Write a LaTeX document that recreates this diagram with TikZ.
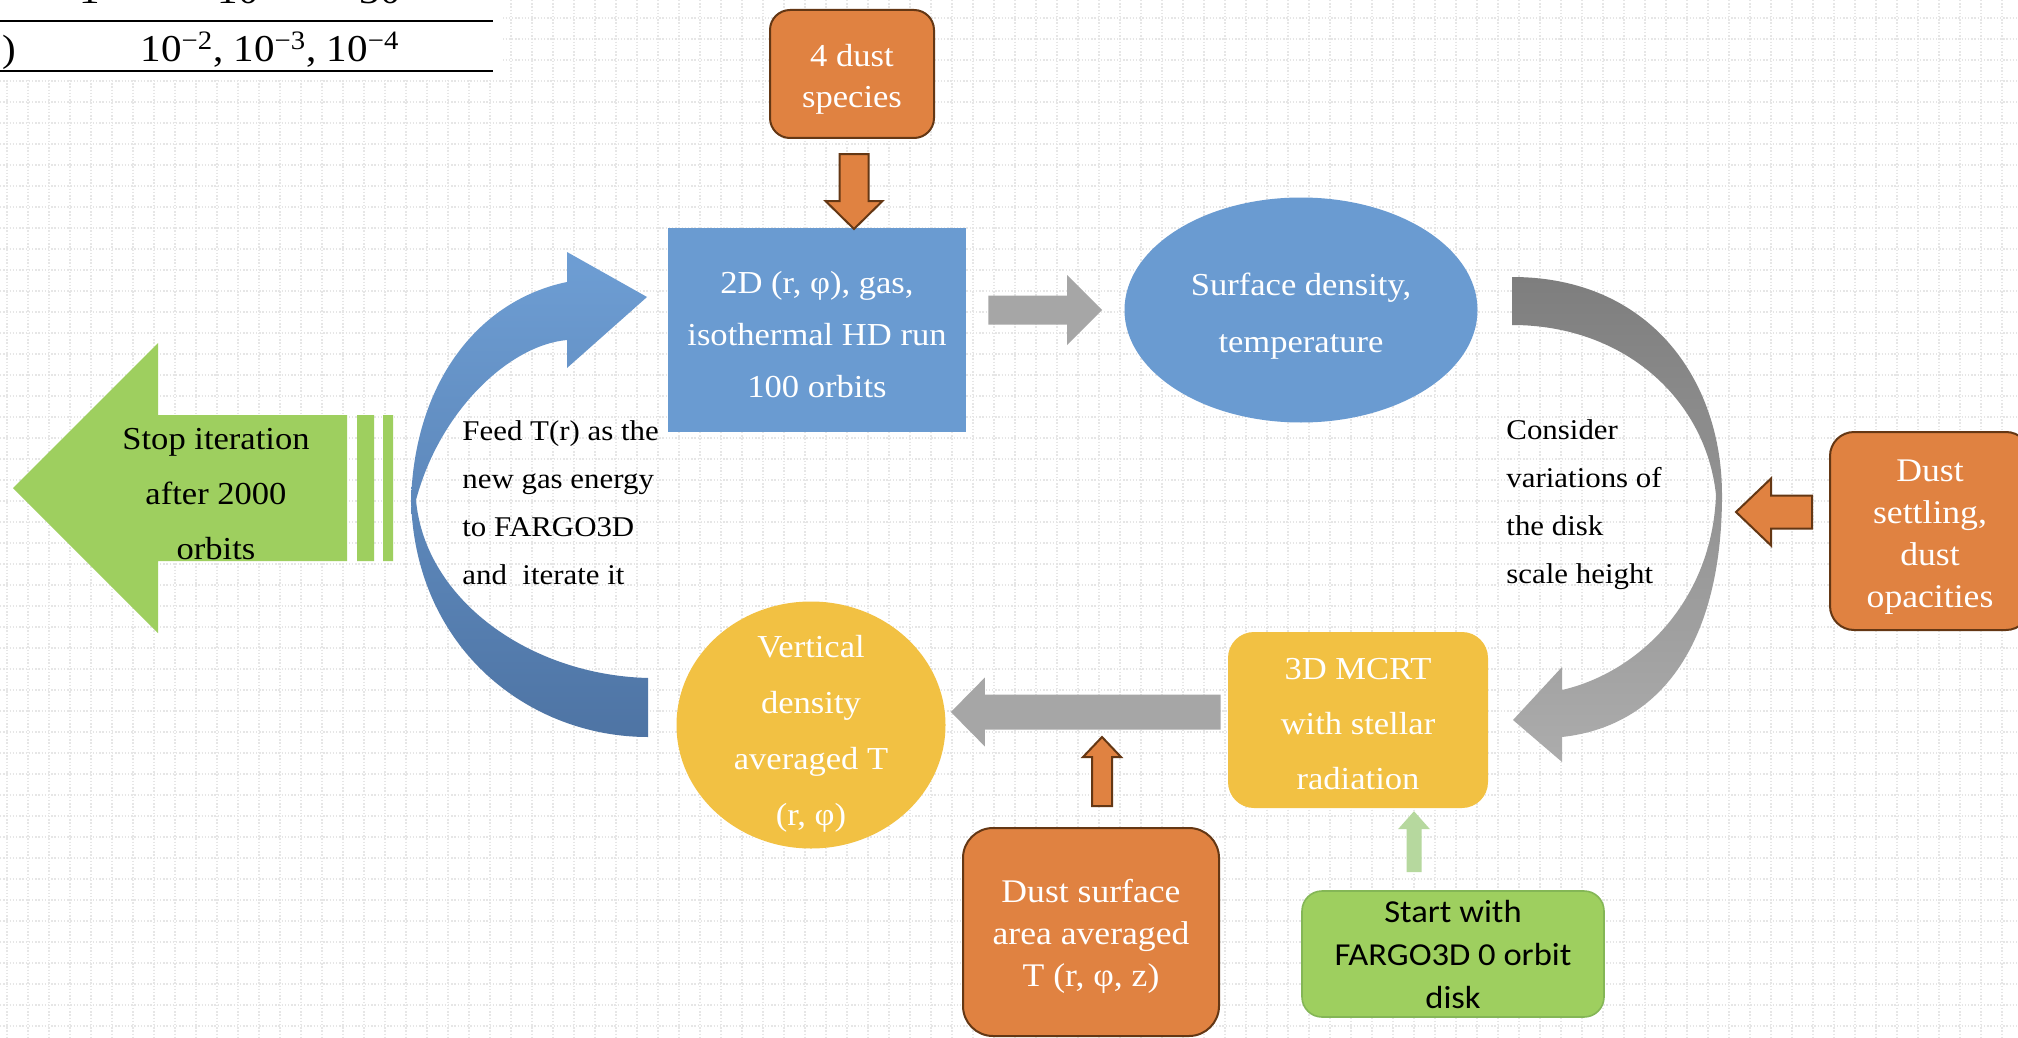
\documentclass[tikz,border=0pt]{standalone}
\usepackage{fontspec}
\setmainfont{Liberation Serif}[FakeStretch=1.08]
\newfontfamily\calibrifont{Carlito}[FakeStretch=1.08]
\usetikzlibrary{shapes.geometric,calc}
\definecolor{cOrange}{RGB}{224,130,65}
\definecolor{cBrown}{RGB}{100,55,20}
\definecolor{cBlue}{RGB}{106,155,209}
\definecolor{cYellow}{RGB}{242,193,67}
\definecolor{cGreen}{RGB}{158,207,95}
\definecolor{cGreenB}{RGB}{132,182,86}
\definecolor{cGray}{RGB}{166,166,166}
\definecolor{cGrid}{RGB}{230,230,230}
\definecolor{cBlueTop}{RGB}{110,158,212}
\definecolor{cBlueBot}{RGB}{78,116,164}
\definecolor{cGrayTop}{RGB}{126,126,126}
\definecolor{cGrayBot}{RGB}{172,172,172}
\definecolor{cLGreen}{RGB}{182,216,158}
% strut that raises the first line's height (shifts centred text down)
\newcommand\tstrut[1]{\rule{0pt}{#1}}
% block arrow: [style]{start}{tip}{shaft half width}{head half width}{head length}
\newcommand\blockarrow[6][]{%
  \path let \p1=(#2), \p2=(#3) in \pgfextra{%
    \pgfmathparse{atan2((\y2)-(\y1),(\x2)-(\x1))}\xdef\baang{\pgfmathresult}%
    \pgfmathparse{veclen((\x2)-(\x1),(\y2)-(\y1))}\xdef\balen{\pgfmathresult}};
  \begin{scope}[shift={(#2)}, rotate=\baang]
    \path[#1] (0pt,-#4) -- ({\balen pt-#6},-#4) -- ({\balen pt-#6},-#5) -- (\balen pt,0pt)
      -- ({\balen pt-#6},#5) -- ({\balen pt-#6},#4) -- (0pt,#4) -- cycle;
  \end{scope}}
\begin{document}
\begin{tikzpicture}[x=0.5pt,y=-0.5pt,
  box/.style={inner sep=0pt, align=center, text=white, font=\fontsize{16}{26}\selectfont},
  obox/.style={box, rectangle, rounded corners=10pt, fill=cOrange, draw=cBrown, line width=1pt},
  annot/.style={inner sep=0pt, align=left, font=\fontsize{14.3}{24}\selectfont},
  oarrow/.style={fill=cOrange, draw=cBrown, line width=1pt, line join=miter},
  garrow/.style={fill=cGray},
  lgarrow/.style={fill=cLGreen},
  gridl/.style={cGrid, line width=0.6pt, dash pattern=on 0.7pt off 0.9pt},
  tabtext/.style={inner sep=0pt, anchor=base, font=\fontsize{19}{19}\selectfont}
]
\useasboundingbox (0,0) rectangle (2018,1038);
\clip (0,0) rectangle (2018,1038);
\fill[white] (0,0) rectangle (2018,1038);
\foreach \y in {18,39,...,1038} \draw[gridl] (0,\y) -- (2018,\y);
\foreach \x in {7,28,...,2018} \draw[gridl] (\x,0) -- (\x,1038);

% table fragment
\fill[white] (0,0) rectangle (503,78);
\draw[line width=1.2pt] (0,21) -- (493,21) (0,71) -- (493,71);
\node[tabtext] (t1) at (90,4) {1};
\node[tabtext] (t2) at (238,4) {10};
\node[tabtext] (t3) at (380,4) {30};
\node[tabtext] (t4) at (9,62) {)};
\node[tabtext] (t5) at (270,62) {10\textsuperscript{−2}, 10\textsuperscript{−3}, 10\textsuperscript{−4}};

% nodes
\node[obox, minimum width=82pt, minimum height=64pt, font=\fontsize{16}{20.5}\selectfont] (dust4) at (852,74) {\tstrut{16pt}4 dust\\species};
\node[box, rectangle, fill=cBlue, minimum width=149pt, minimum height=102pt] (hd) at (817,330) {\tstrut{16pt}2D (r, φ), gas,\\isothermal HD run\\100 orbits};
\node[box, ellipse, fill=cBlue, minimum width=176.5pt, minimum height=112.5pt, font=\fontsize{16}{28.5}\selectfont] (surf) at (1301,310) {\tstrut{17pt}Surface density,\\temperature};
\node[box, rectangle, rounded corners=13pt, fill=cYellow, minimum width=130pt, minimum height=88pt, font=\fontsize{16}{27.5}\selectfont] (mcrt) at (1358,720) {\tstrut{14.5pt}3D MCRT\\with stellar\\radiation};
\node[box, ellipse, fill=cYellow, inner ysep=-16pt, minimum width=134.5pt, minimum height=123.5pt, font=\fontsize{16}{28}\selectfont] (vert) at (811,725) {\tstrut{20pt}Vertical\\density\\averaged T\\(r, φ)};
\node[obox, rounded corners=15pt, minimum width=128pt, minimum height=104pt, font=\fontsize{16.5}{21}\selectfont] (dsurf) at (1091,932) {\tstrut{16.5pt}Dust surface\\area averaged\\T (r, φ, z)};
\node[box, rectangle, rounded corners=10pt, fill=cGreen, draw=cGreenB, line width=0.8pt, text=black, minimum width=151pt, minimum height=63pt, font=\calibrifont\fontsize{16}{21.5}\selectfont] (start) at (1453,954) {Start with\\FARGO3D 0 orbit\\disk};
\node[obox, rounded corners=12pt, minimum width=100pt, minimum height=99pt, font=\fontsize{16.5}{21}\selectfont] (settle) at (1930,531) {\tstrut{17pt}Dust\\settling,\\dust\\opacities};

% stop arrow
\fill[cGreen] (13,488) -- (158,343) -- (158,415) -- (347,415) -- (347,561) -- (158,561) -- (158,633) -- cycle;
\fill[cGreen] (357,415) rectangle (374,561) (383,415) rectangle (393,561);
\node[inner sep=0pt, align=center, font=\fontsize{16}{27.5}\selectfont] (stop) at (216,494) {Stop iteration\\after 2000\\orbits};

% annotations
\node[annot, anchor=west] (feed) at (462,503) {Feed T(r) as the\\new gas energy\\to FARGO3D\\and~ iterate it};
\node[annot, anchor=west] (consider) at (1506,505) {Consider\\variations of\\the disk\\scale height};

% curved arrows
\shade[top color=cBlueTop, bottom color=cBlueBot]
  (647,297) -- (567,368) -- (567,340)
  .. controls (510,345) and (440,410) .. (416,500)
  .. controls (425,600) and (530,675) .. (648,678)
  -- (648,737)
  .. controls (530,737) and (415,650) .. (411,500)
  .. controls (415,380) and (480,300) .. (567,282)
  -- (567,252) -- cycle;
\shade[top color=cGrayTop, bottom color=cGrayBot]
  (1512,277) .. controls (1650,277) and (1722,380) .. (1722,495)
  .. controls (1722,630) and (1670,725) .. (1562,737)
  -- (1562,762) -- (1513,720) -- (1562,667) -- (1562,690)
  .. controls (1640,672) and (1712,600) .. (1716,495)
  .. controls (1706,400) and (1625,325) .. (1512,325)
  -- cycle;

% straight block arrows
\blockarrow[oarrow]{$(dust4.south)+(2,15)$}{$(dust4.south)+(2,90)$}{7.25pt}{14.25pt}{14pt}
\blockarrow[garrow]{$(hd.east|-surf.west)+(22,0)$}{$(surf.west)+(-22,0)$}{7.25pt}{17.5pt}{17.5pt}
\blockarrow[oarrow]{$(settle.west)+(-17,-19)$}{$(settle.west)+(-93,-19)$}{8.25pt}{16.75pt}{17.5pt}
\blockarrow[garrow]{$(mcrt.west)+(-7,-8)$}{$(vert.east|-mcrt.west)+(5,-8)$}{8.75pt}{17.25pt}{17pt}
\blockarrow[oarrow]{$(dsurf.north)+(11,-21)$}{$(dsurf.north)+(11,-90)$}{5pt}{9.5pt}{10pt}
\blockarrow[lgarrow]{$(start.north)+(-39,-18)$}{$(start.north)+(-39,-79)$}{3.75pt}{8pt}{9pt}
\end{tikzpicture}
\end{document}
